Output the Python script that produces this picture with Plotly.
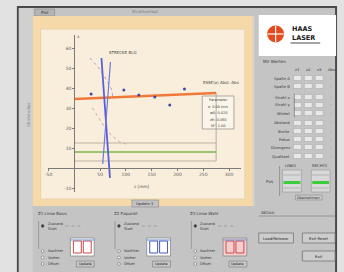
import plotly.graph_objects as go

W, H = 344, 272

# ---------------- data ----------------
x_tick_vals = [-1, 1, 2, 3, 4, 5, 6]
x_tick_text = ["-50", "50", "100", "150", "200", "250", "300"]
y_tick_vals = [-1, 1, 2, 3, 4, 5, 6]
y_tick_text = ["-10", "10", "20", "30", "40", "50", "60"]

beam_x = [0.0, 1.0, 2.0, 3.0, 4.0, 5.0, 5.5]
beam_y = [3.45, 3.5, 3.55, 3.6, 3.65, 3.72, 3.75]

blue1_x = [1.05, 1.38]
blue1_y = [5.5, -0.5]
blue2_x = [1.4, 1.1]
blue2_y = [5.3, 0.2]

caustic_up_x = [0.6, 0.95, 1.25, 1.45, 1.5]
caustic_up_y = [5.5, 5.0, 4.4, 3.9, 3.5]
caustic_lo_x = [0.7, 1.0, 1.3, 1.75, 2.0]
caustic_lo_y = [3.0, 2.4, 1.8, 1.3, 1.2]

meas_x = [0.65, 1.92, 2.5, 3.12, 3.7, 4.27]
meas_y = [3.7, 3.9, 3.65, 3.55, 3.15, 3.95]

green_x = [0.0, 5.5]
green_y = [0.8, 0.8]
gray1_x = [0.0, 5.5]
gray1_y = [1.25, 1.25]
gray2_x = [0.0, 5.5]
gray2_y = [0.35, 0.35]
marker_line_x = [5.5, 5.5]
marker_line_y = [3.75, 0.35]

table_rows = ["Spalte A", "Spalte B", "Strahl x", "Strahl y", "Winkel", "Abstand", "Breite", "Fokus", "Divergenz", "Qualitaet"]
table_cols = ["z1", "z2", "z3", "Abs"]

# ---------------- helpers ----------------
def px(x):
    return x / W

def py(y):
    return 1 - y / H

shapes = []
annos = []

def rect(x0, y0, x1, y1, fill, line="rgba(0,0,0,0)", lw=1):
    shapes.append(dict(type="rect", xref="paper", yref="paper",
                       x0=px(x0), x1=px(x1), y0=py(y1), y1=py(y0),
                       fillcolor=fill, line=dict(color=line, width=lw), layer="below"))

def line(x0, y0, x1, y1, color, lw=1, dash="solid"):
    shapes.append(dict(type="line", xref="paper", yref="paper",
                       x0=px(x0), x1=px(x1), y0=py(y0), y1=py(y1),
                       line=dict(color=color, width=lw, dash=dash), layer="below"))

def circle(cx, cy, r, fill, color="#666", lw=0.6):
    shapes.append(dict(type="circle", xref="paper", yref="paper",
                       x0=px(cx - r), x1=px(cx + r), y0=py(cy + r), y1=py(cy - r),
                       fillcolor=fill, line=dict(color=color, width=lw), layer="below"))

def text(x, y, s, size=4.5, color="#404040", anchor="left", angle=0, bold=False, family="DejaVu Sans"):
    if bold:
        s = "<b>" + s + "</b>"
    annos.append(dict(xref="paper", yref="paper", x=px(x), y=py(y), text=s,
                      showarrow=False, xanchor=anchor, yanchor="middle", textangle=angle,
                      font=dict(size=size, color=color, family=family)))

# ---------------- window ----------------
rect(15, 7, 336, 276, "#c4c4c4", "#4a4a4a", 2)
rect(16, 8, 30, 272, "#d0d0d0")
rect(32, 9, 52, 16, "#b4b4b4", "#8a8a8a", 0.6)
text(42, 12.5, "Plot", 4, "#303030", "center")

# tan chart panel and cream plot area
rect(30, 16, 252, 206, "#f5d9a8")
rect(38, 29, 244, 199, "#f9eedb", "#e9d2a6", 1)
line(253, 16, 253, 206, "#dedede", 1)
text(143, 12, "Strahlverlauf", 4, "#777", "center")
text(25, 115, "Strahlradius", 4, "#8a8a8a", "center", -90)
rect(130, 200, 157, 207, "#c2c2c2", "#8a8a8a", 0.6)
text(143.5, 203.5, "Update 1", 3.8, "#303030", "center")

# ---------------- right panel ----------------
rect(258, 15, 336, 56, "#ffffff")
circle(275, 34, 8.5, "#e64a1c", "#e64a1c", 0)
line(275, 26, 275, 42, "#ffffff", 1.2)
line(267, 34, 283, 34, "#ffffff", 1.2)
text(290, 29, "HAAS", 6.5, "#202020", "left", bold=True)
text(290, 38, "LASER", 6.5, "#202020", "left", bold=True)
line(290, 43, 320, 43, "#202020", 0.8)

text(260, 62, "Mit Werten", 4.2, "#383838")
col_x = [297, 308, 319, 331]
for cx, c in zip(col_x, table_cols):
    text(cx, 69, c, 3.8, "#383838", "center")
row_y = [78, 86, 97, 105, 113, 123, 131, 139, 147, 156]
for ry, r in zip(row_y, table_rows):
    text(292, ry, r, 3.8, "#383838", "right")
    for cx in col_x[:3]:
        rect(cx - 4, ry - 2.5, cx + 4, ry + 2.5, "#e8e8e8", "#9a9a9a", 0.4)
    text(col_x[3], ry, "-", 4, "#505050", "center")
line(294, 94, 294, 117, "#666", 0.6)

text(263, 181, "Pos", 4.2, "#383838")
line(279, 166, 279, 196, "#777", 0.6)
for bx, lab in [(282, "LINKS"), (311, "RECHTS")]:
    text(bx + 9, 165, lab, 3.8, "#383838", "center")
    rect(bx, 170, bx + 19, 192, "#d8d8d8", "#8a8a8a", 0.5)
    rect(bx + 1, 181, bx + 18, 184, "#3ccc3c")
    line(bx + 1, 175, bx + 18, 175, "#9a9a9a", 0.6)
    line(bx + 1, 188, bx + 18, 188, "#9a9a9a", 0.6)
rect(295, 195, 322, 200, "#c8c8c8", "#808080", 0.5)
text(308.5, 197.5, "Übernehmen", 3.5, "#303030", "center")

text(258, 212, "Aktion", 4.2, "#383838")
line(258, 216, 335, 216, "#8a8a8a", 0.8)
rect(258, 233, 293, 243, "#cdcdcd", "#6a6a6a", 0.7)
text(275.5, 238, "Load/Release", 3.8, "#202020", "center")
rect(302, 233, 335, 243, "#cdcdcd", "#6a6a6a", 0.7)
text(318.5, 238, "Exit Reset", 3.8, "#202020", "center")
rect(302, 251, 335, 261, "#cdcdcd", "#6a6a6a", 0.7)
text(318.5, 256, "Exit", 3.8, "#202020", "center")

# ---------------- bottom panels ----------------
panels = [(31, "Z1 Linse Basis", "#d04848", "#ffffff"),
          (108, "Z2 Fixpunkt", "#4858b8", "#ffffff"),
          (185, "Z3 Linse Wahl", "#d04848", "#f2d0d0")]
for x0, title, icol, ibg in panels:
    text(x0 + 2, 213, title, 4, "#383838")
    line(x0 + 5, 221, x0 + 5, 249, "#808080", 0.6)
    circle(x0 + 9, 226, 1.4, "#303030")
    text(x0 + 12, 224, "Zustand", 3.6, "#383838")
    text(x0 + 12, 229, "Start", 3.6, "#383838")
    line(x0 + 32, 226, x0 + 48, 226, "#8a8a8a", 0.6, "dot")
    for k, lab in enumerate(["Nachher", "Vorher", "Offset"]):
        yy = 251 + 6.5 * k
        circle(x0 + 9, yy, 1.4, "#ffffff")
        text(x0 + 12, yy, lab, 3.6, "#383838")
    rect(x0 + 37, 238, x0 + 61, 256, ibg, "#8a8a8a", 0.8)
    rect(x0 + 40, 241, x0 + 48, 253, "rgba(0,0,0,0)", icol, 1)
    rect(x0 + 50, 241, x0 + 58, 253, "rgba(0,0,0,0)", icol, 1)
    line(x0 + 37, 240, x0 + 61, 240, "#6a90d0", 1)
    rect(x0 + 43, 261, x0 + 61, 267, "#c8c8c8", "#6a6a6a", 0.5)
    text(x0 + 52, 264, "Update", 3.5, "#202020", "center")

# ---------------- plot annotations ----------------
text(105, 52, "STRECKE BLG", 4, "#404040")
text(200, 82, "ESSE(x) Abst. Abs", 4, "#404040")
rect(201, 96, 233, 129, "#fbf4e8", "#7a7a7a", 0.6)
for k, s in enumerate(["Parameter", "z: 0.00 mm", "w0: 0.020", "zR: 0.080", "M²: 1.00"]):
    text(217, 100 + 6.5 * k, s, 3.5, "#404040", "center")
text(140, 186, "z [mm]", 4.2, "#505050", "center")
text(76, 37, "x", 4.2, "#505050", "center")

# ---------------- traces ----------------
fig = go.Figure()
fig.add_trace(go.Scatter(x=gray1_x, y=gray1_y, mode="lines", line=dict(color="#bdb3a2", width=1)))
fig.add_trace(go.Scatter(x=gray2_x, y=gray2_y, mode="lines", line=dict(color="#bdb3a2", width=1)))
fig.add_trace(go.Scatter(x=green_x, y=green_y, mode="lines", line=dict(color="#78b848", width=1.3)))
fig.add_trace(go.Scatter(x=marker_line_x, y=marker_line_y, mode="lines", line=dict(color="#9a9a9a", width=0.8)))
fig.add_trace(go.Scatter(x=caustic_up_x, y=caustic_up_y, mode="lines", line=dict(color="#b09ad0", width=1, dash="dot")))
fig.add_trace(go.Scatter(x=caustic_lo_x, y=caustic_lo_y, mode="lines", line=dict(color="#d0a0b0", width=1, dash="dot")))
fig.add_trace(go.Scatter(x=beam_x, y=beam_y, mode="lines", line=dict(color="#f07838", width=2.6)))
fig.add_trace(go.Scatter(x=blue1_x, y=blue1_y, mode="lines", line=dict(color="#5860d8", width=1.8)))
fig.add_trace(go.Scatter(x=blue2_x, y=blue2_y, mode="lines", line=dict(color="#7078e0", width=1.2)))
fig.add_trace(go.Scatter(x=meas_x, y=meas_y, mode="markers", marker=dict(color="#4048a8", size=3)))

x0p, x1p = 45, 240
y0p, y1p = 192, 35
fig.update_layout(
    width=W, height=H, autosize=False, showlegend=False,
    margin=dict(l=0, r=0, t=0, b=0),
    paper_bgcolor="#e2e2e2", plot_bgcolor="rgba(0,0,0,0)",
    shapes=shapes, annotations=annos,
    xaxis=dict(domain=[px(x0p), px(x1p)], range=[(x0p - 72) / 26, (x1p - 72) / 26],
               anchor="free", position=py(168), showgrid=False, zeroline=False,
               showline=True, linecolor="#7a7a7a", linewidth=1,
               ticks="outside", ticklen=2, tickcolor="#7a7a7a",
               tickvals=x_tick_vals, ticktext=x_tick_text,
               tickfont=dict(size=4.5, color="#606060", family="DejaVu Sans")),
    yaxis=dict(domain=[py(y0p), py(y1p)], range=[(168 - y0p) / 20, (168 - y1p) / 20],
               anchor="free", position=px(72), showgrid=False, zeroline=False,
               showline=True, linecolor="#7a7a7a", linewidth=1,
               ticks="outside", ticklen=2, tickcolor="#7a7a7a",
               tickvals=y_tick_vals, ticktext=y_tick_text,
               tickfont=dict(size=4.5, color="#606060", family="DejaVu Sans")),
)
fig.write_html("out.html", config={"displayModeBar": False},
               post_script="document.body.style.margin='0';document.body.style.background='#e2e2e2';")
